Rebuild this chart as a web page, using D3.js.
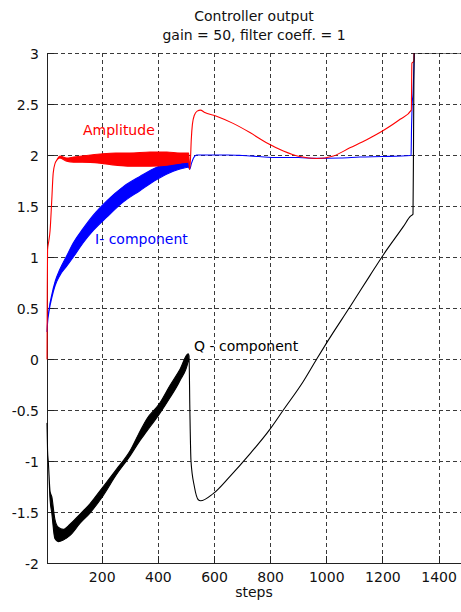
<!DOCTYPE html>
<html>
<head>
<meta charset="utf-8">
<script src="https://cdn.jsdelivr.net/npm/d3@7"></script>
<style>
  body { margin: 0; background: #fff; }
  svg text { font-family: "DejaVu Sans", "Liberation Sans", sans-serif; font-size: 14px; fill: #111; }
</style>
</head>
<body>
<svg id="chart" width="461" height="612"></svg>
<script>
// Axis ticks
const xTicks = [200, 400, 600, 800, 1000, 1200, 1400];
const yTicks = [-2, -1.5, -1, -0.5, 0, 0.5, 1, 1.5, 2, 2.5, 3];

// Amplitude: envelope of the fast oscillation (low == high where the trace is a single line)
const ampSteps = [5, 6, 7, 11, 16, 22, 27, 34, 40, 51, 75, 100, 130, 194, 250, 300, 372, 432, 479, 507, 510,
                  513, 516, 519, 523, 530, 540, 552, 565, 609, 668, 728, 787, 847, 906, 966, 1025, 1084, 1144,
                  1203, 1263, 1303, 1305, 1312, 1314];
const ampHigh  = [0.0, 0.7, 1.07, 1.15, 1.26, 1.56, 1.82, 1.92, 1.95, 1.99, 1.97, 1.98, 1.99, 2.01, 2.02, 2.02, 2.03, 2.03, 2.02, 2.02, 2.02,
                  1.86, 1.95, 2.15, 2.3, 2.39, 2.43, 2.44, 2.42, 2.38, 2.31, 2.22, 2.12, 2.04, 1.985, 1.965, 1.99, 2.07, 2.15,
                  2.24, 2.35, 2.44, 2.9, 2.92, 3.2];
const ampLow   = [0.0, 0.7, 1.07, 1.15, 1.26, 1.56, 1.82, 1.92, 1.95, 1.97, 1.94, 1.93, 1.93, 1.92, 1.90, 1.89, 1.89, 1.90, 1.92, 1.93, 1.93,
                  1.86, 1.95, 2.15, 2.3, 2.39, 2.43, 2.44, 2.42, 2.38, 2.31, 2.22, 2.12, 2.04, 1.985, 1.965, 1.99, 2.07, 2.15,
                  2.24, 2.35, 2.44, 2.9, 2.92, 3.2];

// I-component
const iSteps = [5, 6, 13, 22, 34, 51, 75, 99, 134, 170, 218, 277, 336, 396, 455, 489, 507, 510, 513, 520, 527, 538,
                560, 650, 700, 760, 820, 900, 960, 1050, 1120, 1200, 1300, 1302, 1304, 1306, 1309, 1312, 1316];
const iHigh  = [0.27, 0.32, 0.5, 0.63, 0.76, 0.88, 1.01, 1.14, 1.28, 1.41, 1.55, 1.69, 1.79, 1.88, 1.93, 1.94, 1.93, 1.92, 1.86, 1.92, 1.97, 2.0,
                2.0, 2.0, 1.995, 1.985, 1.975, 1.975, 1.967, 1.97, 1.98, 1.985, 1.995, 2.0, 2.3, 2.5, 2.6, 2.85, 3.2];
const iLow   = [0.27, 0.32, 0.48, 0.6, 0.72, 0.82, 0.91, 1.0, 1.14, 1.26, 1.39, 1.54, 1.65, 1.76, 1.84, 1.87, 1.88, 1.88, 1.86, 1.92, 1.97, 2.0,
                2.0, 2.0, 1.995, 1.985, 1.975, 1.975, 1.967, 1.97, 1.98, 1.985, 1.995, 2.0, 2.3, 2.5, 2.6, 2.85, 3.2];

// Q-component
const qSteps = [5, 7, 10, 16, 22, 33, 45, 63, 87, 123, 158, 200, 253, 301, 336, 360, 405, 443, 479, 508, 511,
                514, 518, 530, 544, 552, 597, 657, 728, 799, 847, 918, 966, 1004, 1084, 1156, 1203, 1275, 1300,
                1309, 1311, 1313, 1480];
const qHigh  = [-0.63, -0.9, -1.02, -1.30, -1.35, -1.57, -1.65, -1.67, -1.62, -1.52, -1.42, -1.27, -1.08, -0.90, -0.71, -0.59, -0.44, -0.26, -0.10, 0.05, 0.03,
                -0.5, -1.0, -1.25, -1.38, -1.39, -1.32, -1.15, -0.93, -0.69, -0.50, -0.22, 0.0, 0.17, 0.51, 0.82, 1.02, 1.30, 1.40,
                1.42, 2.2, 3.0, 3.0];
const qLow   = [-0.63, -0.9, -1.02, -1.38, -1.51, -1.76, -1.79, -1.775, -1.73, -1.61, -1.51, -1.36, -1.13, -0.95, -0.80, -0.71, -0.54, -0.38, -0.21, -0.02, 0.03,
                -0.5, -1.0, -1.25, -1.38, -1.39, -1.32, -1.15, -0.93, -0.69, -0.50, -0.22, 0.0, 0.17, 0.51, 0.82, 1.02, 1.30, 1.40,
                1.42, 2.2, 3.0, 3.0];

const titleLines = ["Controller output", "gain = 50, filter coeff. = 1"];

const svg = d3.select("#chart");
const plot = { left: 47, right: 461, top: 53, bottom: 563 };

const x = d3.scaleLinear().domain([5, 1480]).range([plot.left, plot.right]);
const y = d3.scaleLinear().domain([-2, 3]).range([plot.bottom, plot.top]);

svg.append("defs").append("clipPath").attr("id", "plotClip")
  .append("rect")
  .attr("x", plot.left - 1).attr("y", plot.top)
  .attr("width", plot.right - plot.left + 1).attr("height", plot.bottom - plot.top);

// Dotted grid
const grid = svg.append("g").attr("stroke", "#3a3a3a").attr("stroke-width", 1)
  .attr("stroke-dasharray", "4,3").attr("shape-rendering", "crispEdges");
grid.selectAll("line.v").data(xTicks).join("line").attr("class", "v")
  .attr("x1", d => Math.round(x(d)) + 0.5).attr("x2", d => Math.round(x(d)) + 0.5)
  .attr("y1", plot.top).attr("y2", plot.bottom);
grid.selectAll("line.h").data(yTicks.filter(d => d > -2)).join("line").attr("class", "h")
  .attr("y1", d => Math.round(y(d)) + 0.5).attr("y2", d => Math.round(y(d)) + 0.5)
  .attr("x1", plot.left).attr("x2", plot.right);

// Axes
const fmt = d => String(d);
const xAxis = d3.axisBottom(x).tickValues(xTicks).tickFormat(fmt).tickSizeInner(-7).tickSizeOuter(0).tickPadding(9);
const yAxis = d3.axisLeft(y).tickValues(yTicks).tickFormat(fmt).tickSizeInner(-7).tickSizeOuter(0).tickPadding(8);

const gx = svg.append("g").attr("transform", `translate(0,${plot.bottom})`).call(xAxis);
const gy = svg.append("g").attr("transform", `translate(${plot.left},0)`).call(yAxis);
[gx, gy].forEach(g => {
  g.select(".domain").attr("stroke", "#222").attr("shape-rendering", "crispEdges");
  g.selectAll(".tick line").attr("stroke", "#222").attr("shape-rendering", "crispEdges");
  g.selectAll(".tick text").attr("font-family", null).attr("font-size", null).style("fill", "#111");
});
gy.selectAll(".tick text").attr("dy", "0.36em");

// Traces (drawn over the axis lines)
const series = [
  { steps: iSteps, low: iLow, high: iHigh, color: "#0000ff" },
  { steps: ampSteps, low: ampLow, high: ampHigh, color: "#ff0000" },
  { steps: qSteps, low: qLow, high: qHigh, color: "#000000" }
];
const traces = svg.append("g").attr("clip-path", "url(#plotClip)");
series.forEach(s => {
  const pts = s.steps.map((st, i) => ({ st, lo: s.low[i], hi: s.high[i] }));
  const band = d3.area().curve(d3.curveMonotoneX)
    .x(d => x(d.st)).y0(d => y(d.lo)).y1(d => y(d.hi));
  traces.append("path").datum(pts)
    .attr("d", band)
    .attr("fill", s.color)
    .attr("stroke", s.color)
    .attr("stroke-width", 1.1)
    .attr("stroke-linejoin", "round");
});

// Titles and labels
svg.append("text").attr("x", 254).attr("y", 21).attr("text-anchor", "middle").text(titleLines[0]);
svg.append("text").attr("x", 254).attr("y", 40).attr("text-anchor", "middle").text(titleLines[1]);
svg.append("text").attr("x", 254).attr("y", 597).attr("text-anchor", "middle").text("steps");

svg.append("text").attr("x", 83).attr("y", 135).style("fill", "#ff0000").text("Amplitude");
svg.append("text").attr("x", 95).attr("y", 244).style("fill", "#0000ff").text("I- component");
svg.append("text").attr("x", 194).attr("y", 351).style("fill", "#000").text("Q - component");
</script>
</body>
</html>
